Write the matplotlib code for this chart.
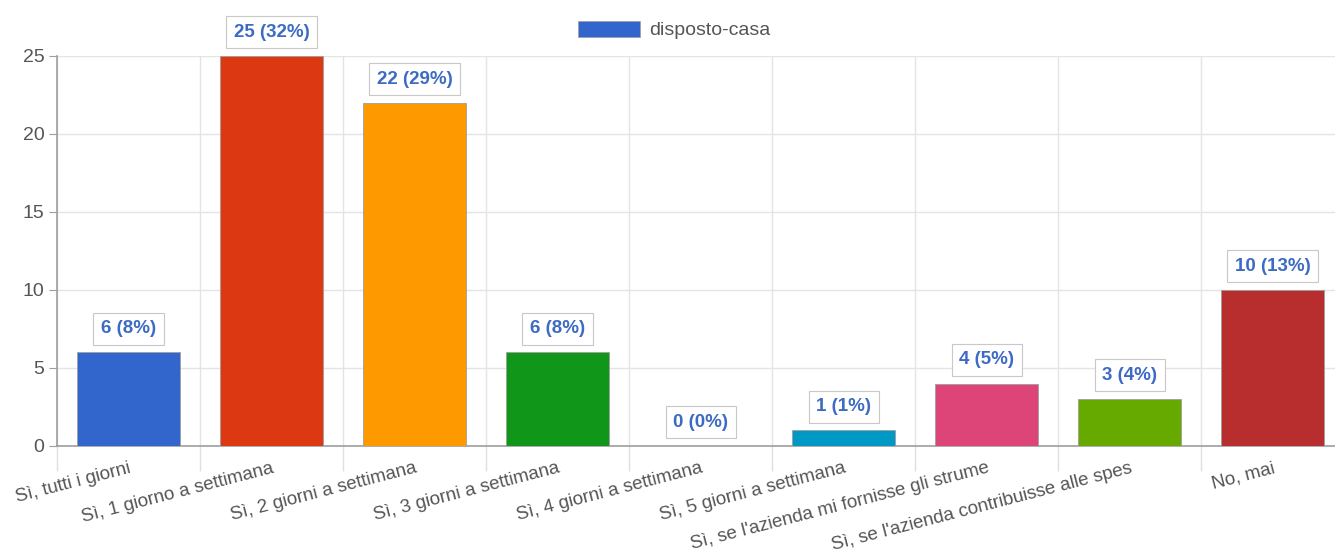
import matplotlib
matplotlib.use("Agg")
import matplotlib.pyplot as plt
from matplotlib.patches import Patch

plt.rcParams['font.family'] = ['Liberation Sans', 'DejaVu Sans']

categories = [
    "Sì, tutti i giorni",
    "Sì, 1 giorno a settimana",
    "Sì, 2 giorni a settimana",
    "Sì, 3 giorni a settimana",
    "Sì, 4 giorni a settimana",
    "Sì, 5 giorni a settimana",
    "Sì, se l'azienda mi fornisse gli strume",
    "Sì, se l'azienda contribuisse alle spes",
    "No, mai",
]
counts = [6, 25, 22, 6, 0, 1, 4, 3, 10]
colors = ["#3366cc", "#dc3912", "#ff9900", "#109618", "#990099",
          "#0099c6", "#dd4477", "#66aa00", "#b82e2e"]
series_name = "disposto-casa"

total = sum(counts)

fig = plt.figure(figsize=(13.35, 5.57), dpi=100)
ax = fig.add_axes([57 / 1335, 111 / 557, 1287 / 1335, 390 / 557])

x = range(len(categories))
ax.bar(x, counts, width=0.72, color=colors, edgecolor="#9e9e9e",
       linewidth=0.6, zorder=3)

for i, c in enumerate(counts):
    pct = round(100 * c / total)
    ax.annotate(f"{c} ({pct}%)", (i, c), xytext=(0, 11),
                textcoords="offset points", ha="center", va="bottom",
                fontsize=13.5, fontweight="bold", color="#3d6bc4",
                bbox=dict(boxstyle="square,pad=0.4", fc="white",
                          ec="#c8c8c8", lw=0.8),
                annotation_clip=False, zorder=5)

ax.set_xlim(-0.5, len(categories) - 0.5)
ax.set_ylim(0, 25)
ax.set_yticks([0, 5, 10, 15, 20, 25])

# category boundaries carry the vertical grid and the long ticks
bounds = [i - 0.5 for i in range(len(categories) + 1)]
ax.set_xticks(bounds, minor=True)
ax.set_xticks(list(x))
ax.set_xticklabels(categories, rotation=14.5, ha="right",
                   rotation_mode="anchor", fontsize=13.5, color="#555555")
ax.tick_params(axis="x", which="major", length=0, pad=10)
ax.tick_params(axis="x", which="minor", length=18, color="#e0e0e0",
               width=1)
ax.tick_params(axis="y", length=6, color="#9e9e9e", labelsize=14,
               labelcolor="#555555", pad=3)
ax.grid(axis="x", which="minor", color="#e4e4e4", lw=1, zorder=0)
ax.grid(axis="y", which="major", color="#e4e4e4", lw=1, zorder=0)

for side in ("top", "right"):
    ax.spines[side].set_visible(False)
for side in ("left", "bottom"):
    ax.spines[side].set_color("#9e9e9e")
    ax.spines[side].set_linewidth(1.2)

fig.legend(handles=[Patch(fc=colors[0], ec="#9e9e9e", lw=0.5)],
           labels=[series_name], loc="center", bbox_to_anchor=(0.505, 0.946),
           frameon=False, fontsize=14, handlelength=3.2, handleheight=0.9,
           handletextpad=0.5, labelcolor="#555555")

fig.savefig("out.png", dpi=100)
